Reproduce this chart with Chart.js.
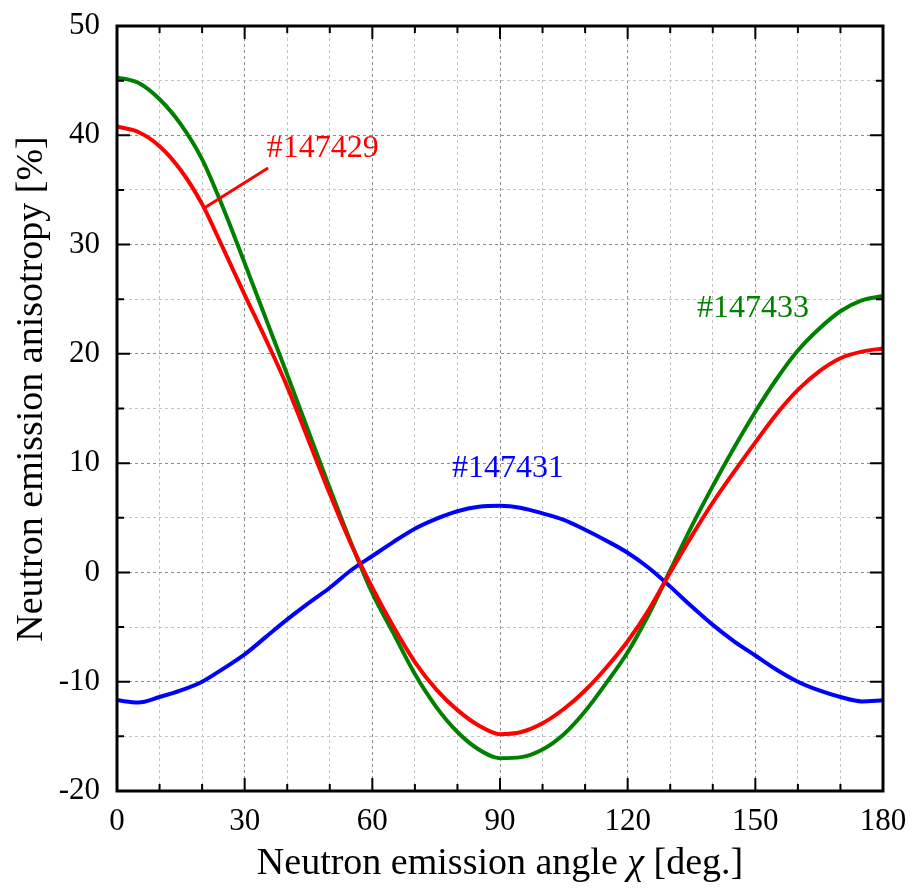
<!DOCTYPE html>
<html>
<head>
<meta charset="utf-8">
<script src="https://cdn.jsdelivr.net/npm/chart.js@4.4.1/dist/chart.umd.min.js"></script>
<style>
  html, body { margin: 0; padding: 0; background: #fff; }
  #chart { display: block; }
</style>
</head>
<body>
<canvas id="chart" width="913" height="888"></canvas>
<script>
// neutron emission angle chi [deg.]
const angles = [0, 5, 10, 15, 20, 25, 30, 35, 40, 45, 50, 55, 60, 65, 70, 75, 80, 85, 90,
    95, 100, 105, 110, 115, 120, 125, 130, 135, 140, 145, 150, 155, 160, 165, 170, 175, 180];

// anisotropy [%] per shot
const shot147429 = [40.8, 40.3, 39.0, 36.8, 33.7, 29.6, 25.4, 21.3, 17.0, 12.1, 7.2, 2.6, -1.4,
    -5.0, -8.2, -10.7, -12.6, -14.0, -14.8, -14.6, -13.8, -12.5, -10.8, -8.7, -6.3, -3.4, 0.0,
    3.3, 6.4, 9.2, 11.9, 14.5, 16.7, 18.4, 19.6, 20.2, 20.5];
const shot147431 = [-11.7, -11.9, -11.4, -10.8, -10.0, -8.8, -7.5, -5.9, -4.3, -2.8, -1.4, 0.2, 1.5,
    2.8, 4.0, 4.9, 5.6, 6.0, 6.1, 5.9, 5.4, 4.8, 3.9, 2.9, 1.8, 0.4, -1.3,
    -3.1, -4.8, -6.3, -7.6, -8.9, -10.0, -10.8, -11.4, -11.8, -11.7];
const shot147433 = [45.3, 44.8, 43.3, 41.0, 37.8, 33.3, 28.3, 23.2, 18.1, 12.9, 7.7, 2.7, -1.9,
    -5.6, -9.3, -12.3, -14.6, -16.2, -17.0, -16.9, -16.2, -14.8, -12.7, -10.1, -7.3, -3.8, 0.2,
    4.2, 7.9, 11.4, 14.7, 17.7, 20.3, 22.3, 23.9, 24.9, 25.3];

const shotNames = ['#147429', '#147431', '#147433'];
const shotColors = ['#ff0000', '#0000ff', '#008000'];
// label anchor (left, baseline) in data units
const labelX = [35.2, 78.7, 136.3];
const labelY = [38.0, 8.7, 23.4];

const serif = '"Liberation Serif", "Times New Roman", serif';

function pts(ys) {
    return angles.map((a, i) => ({ x: a, y: ys[i] }));
}

const frame = {
    id: 'frame',
    afterDraw(chart) {
        const ctx = chart.ctx;
        const a = chart.chartArea;
        const xs = chart.scales.x, ys = chart.scales.y;
        ctx.save();
        // inward ticks
        ctx.strokeStyle = '#000';
        ctx.lineWidth = 2;
        ctx.beginPath();
        for (let v = 0; v <= 180; v += 10) {
            const px = xs.getPixelForValue(v);
            const len = v % 30 === 0 ? 13 : 7;
            ctx.moveTo(px, a.bottom); ctx.lineTo(px, a.bottom - len);
            ctx.moveTo(px, a.top); ctx.lineTo(px, a.top + len);
        }
        for (let v = -20; v <= 50; v += 5) {
            const py = ys.getPixelForValue(v);
            const len = v % 10 === 0 ? 13 : 7;
            ctx.moveTo(a.left, py); ctx.lineTo(a.left + len, py);
            ctx.moveTo(a.right, py); ctx.lineTo(a.right - len, py);
        }
        ctx.stroke();
        ctx.lineWidth = 3;
        ctx.strokeRect(a.left, a.top, a.right - a.left, a.bottom - a.top);

        // shot labels
        ctx.font = '32px ' + serif;
        ctx.textBaseline = 'alphabetic';
        ctx.textAlign = 'left';
        for (let i = 0; i < shotNames.length; i++) {
            ctx.fillStyle = shotColors[i];
            ctx.fillText(shotNames[i], xs.getPixelForValue(labelX[i]), ys.getPixelForValue(labelY[i]));
        }
        // pointer for #147429
        ctx.strokeStyle = shotColors[0];
        ctx.lineWidth = 3;
        ctx.beginPath();
        ctx.moveTo(xs.getPixelForValue(20.7), ys.getPixelForValue(33.4));
        ctx.lineTo(xs.getPixelForValue(35.5), ys.getPixelForValue(37.0));
        ctx.stroke();

        // axis titles
        ctx.fillStyle = '#000';
        const parts = [['Neutron emission angle ', ''], ['\u03c7', 'italic '], [' [deg.]', '']];
        let total = 0;
        for (const p of parts) {
            ctx.font = p[1] + '38px ' + serif;
            total += ctx.measureText(p[0]).width;
        }
        let x = (a.left + a.right) / 2 - total / 2;
        for (const p of parts) {
            ctx.font = p[1] + '38px ' + serif;
            ctx.fillText(p[0], x, 874);
            x += ctx.measureText(p[0]).width;
        }
        ctx.translate(42, 389);
        ctx.rotate(-Math.PI / 2);
        ctx.textAlign = 'center';
        ctx.font = '38px ' + serif;
        ctx.fillText('Neutron emission anisotropy [%]', 0, 0);
        ctx.restore();
    }
};

function gridColor(ctx, major) {
    return ctx.tick && ctx.tick.value % major === 0 ? '#8c8c8c' : '#c4c4c4';
}

function noPad(s) {
    s.paddingTop = 0; s.paddingBottom = 0; s.paddingLeft = 0; s.paddingRight = 0;
}

new Chart(document.getElementById('chart'), {
    type: 'line',
    data: {
        datasets: [
            { label: shotNames[0], data: pts(shot147429), borderColor: shotColors[0] },
            { label: shotNames[1], data: pts(shot147431), borderColor: shotColors[1] },
            { label: shotNames[2], data: pts(shot147433), borderColor: shotColors[2] }
        ]
    },
    options: {
        responsive: false,
        animation: false,
        layout: { padding: { top: 26, right: 30, left: 0, bottom: 0 } },
        elements: {
            point: { radius: 0 },
            line: { borderWidth: 4, cubicInterpolationMode: 'monotone', fill: false }
        },
        plugins: { legend: { display: false }, tooltip: { enabled: false } },
        scales: {
            x: {
                type: 'linear',
                min: 0, max: 180,
                afterFit: (s) => { s.height = 97; noPad(s); },
                border: { display: false, dash: [3, 3] },
                grid: { color: (c) => gridColor(c, 30), lineWidth: 1, drawTicks: false },
                ticks: {
                    stepSize: 10, autoSkip: false, maxRotation: 0, padding: 12,
                    color: '#000', font: { family: serif, size: 31 },
                    callback: (v) => v % 30 === 0 ? v : ''
                }
            },
            y: {
                min: -20, max: 50,
                afterFit: (s) => { s.width = 117; noPad(s); },
                border: { display: false, dash: [3, 3] },
                grid: { color: (c) => gridColor(c, 10), lineWidth: 1, drawTicks: false },
                ticks: {
                    stepSize: 5, autoSkip: false, padding: 17,
                    color: '#000', font: { family: serif, size: 31 },
                    callback: (v) => v % 10 === 0 ? v : ''
                }
            }
        }
    },
    plugins: [frame]
});
</script>
</body>
</html>
